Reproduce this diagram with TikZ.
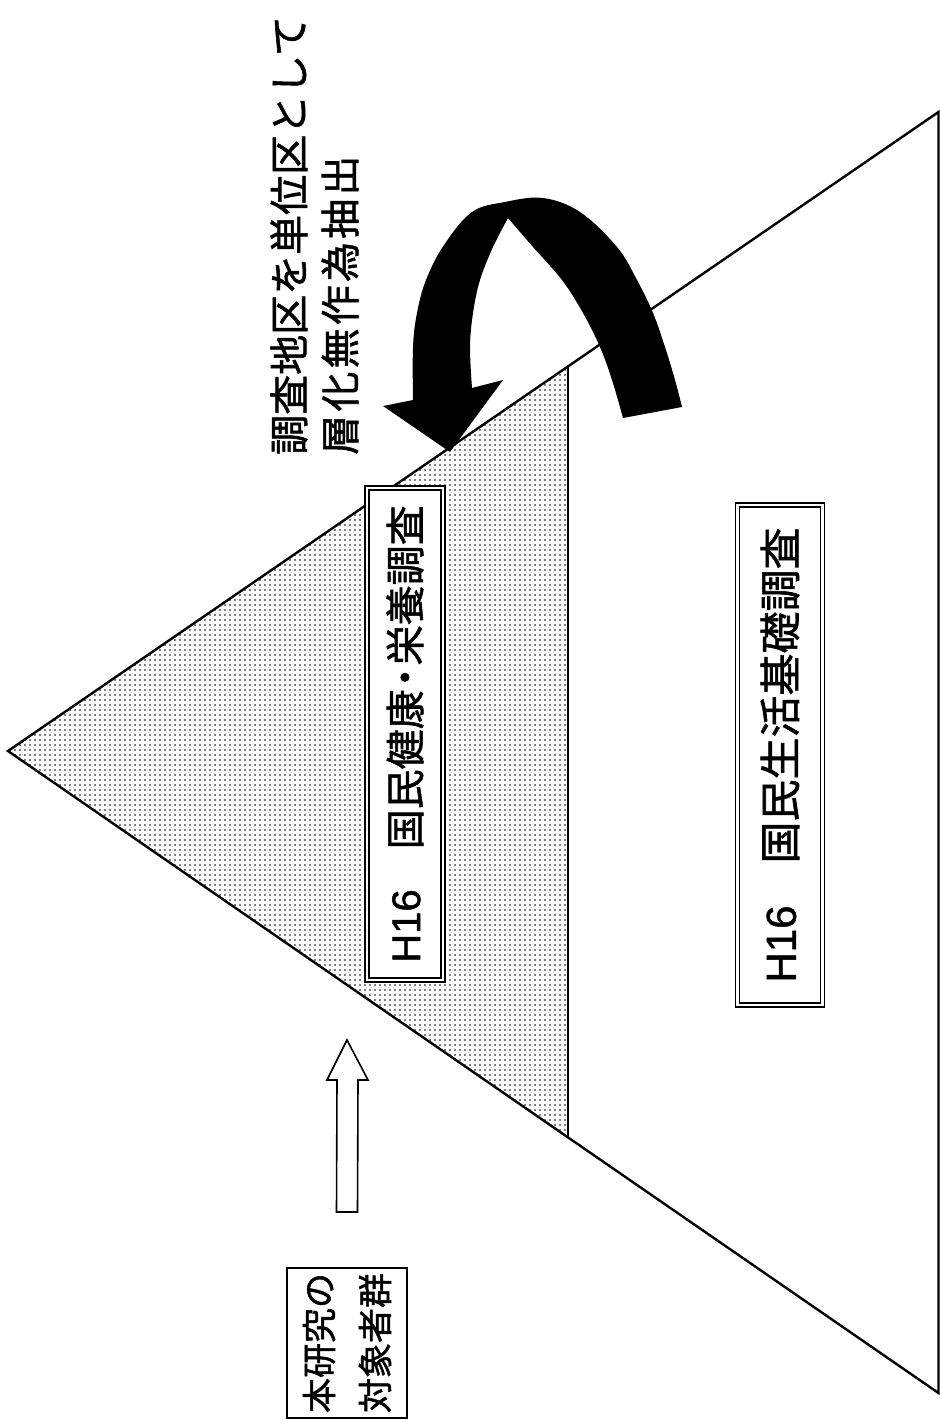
\documentclass[tikz,border=0pt]{standalone}
\usepackage{fontspec}
\setmainfont{Liberation Sans}[FakeBold=1.2]
\newfontfamily\jp{Noto Sans CJK JP}[FakeBold=1.4]
\newfontfamily\jpwide{Noto Sans CJK JP}[LetterSpace=8,FakeBold=1.4]
\usetikzlibrary{patterns.meta}
\begin{document}
\begin{tikzpicture}[x=1pt,y=-1pt,
  edge/.style={line width=2.4pt, line join=miter},
  dbox/.style={draw, double, double distance=2.4pt, line width=1.6pt, fill=white, rotate=90, inner sep=0pt},
  titletext/.style={rotate=90, anchor=west, inner sep=0pt},
  hollowarrow/.style={draw, line width=1.6pt, fill=white, line join=miter}]
\useasboundingbox (0,0) rectangle (939,1420);

% triangle geometry
\coordinate (apex) at (8,751);
\coordinate (tr) at (938.5,112);
\coordinate (br) at (938.5,1393);
\coordinate (vt) at (568,367);
\coordinate (vb) at (568,1137);

\fill[pattern={Dots[distance=5pt,radius=0.8pt]}] (apex) -- (vt) -- (vb) -- cycle;
\draw[edge] (apex) -- (tr) -- (br) -- cycle;
\draw[line width=2pt] (vt) -- (vb);

% boxes
\node[dbox, minimum width=492, minimum height=76] (nhns) at (405,734)
  {\fontsize{40}{48}\selectfont H16{\jp　国民健康\kern-8pt・\kern-8pt栄養調査}};
\node[dbox, minimum width=500, minimum height=85] (seikatsu) at (780,755)
  {\fontsize{42}{50}\selectfont H16{\jp　国民生活基礎調査}};
\node[draw, line width=1.5pt, rotate=90, minimum width=150, minimum height=120,
      align=left, inner sep=0pt, fill=white,
      font=\jp\fontsize{35}{56}\selectfont] (taisho) at (347,1343) {本研究の\\対象者群};

% title
\node[titletext, font=\jp\fontsize{40}{48}\selectfont] (t1) at (289,455) {調査地区を単位区として};
\node[titletext, font=\jpwide\fontsize{40}{48}\selectfont] (t2) at (340,455) {層化無作為抽出};

% hollow up arrow
\coordinate (abase) at (347,1212);
\coordinate (atip) at (347,1040);
\draw[hollowarrow] ([xshift=-10.5pt]abase) -- (337,1080) -- (327,1080) -- (atip)
  -- (368,1080) -- (358,1080) -- ([xshift=10.5pt]abase) -- cycle;

% curved black arrow
\fill[black] (682,407) -- plot[smooth, tension=0.6] coordinates {(682,407) (675,380) (665,347) (653,313) (637,280) (617,247) (580,212) (543,198) (505,202) (472,212) (444,245) (426,280) (417,313) (413,347) (413,400)}
  -- (383,406) -- (450,452) -- (503,380) -- (472,388)
  -- plot[smooth, tension=0.6] coordinates {(472,388) (470,347) (473,313) (480,280) (493,247) (508,218)}
  -- plot[smooth, tension=0.6] coordinates {(508,218) (533,247) (562,280) (583,313) (600,347) (612,380) (623,418)}
  -- cycle;
\end{tikzpicture}
\end{document}
